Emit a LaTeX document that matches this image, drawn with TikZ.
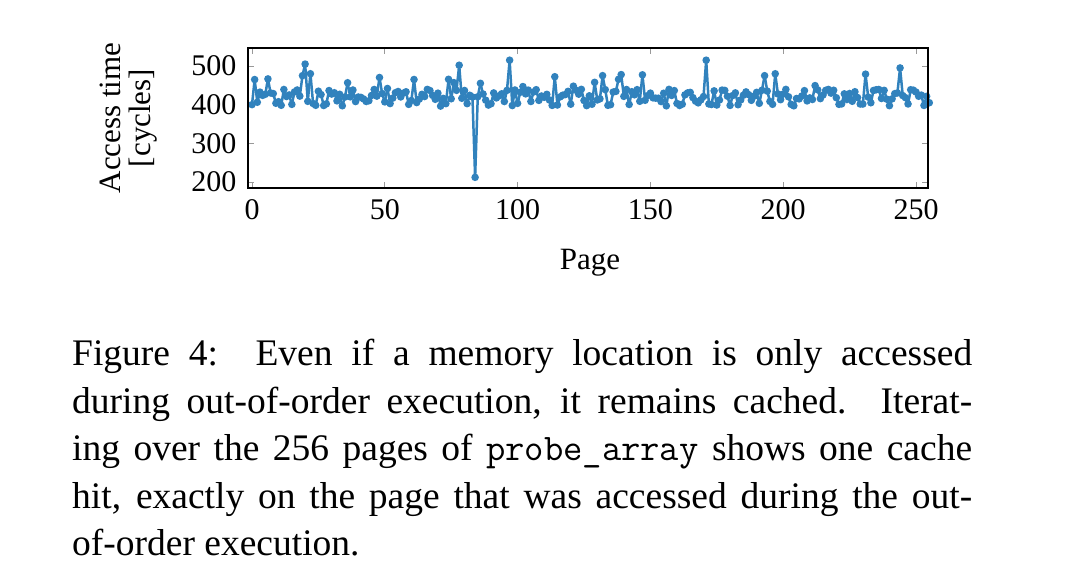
\documentclass[tikz,border=0pt]{standalone}
\usepackage{fontspec}
\setmainfont{Liberation Serif}
\begin{document}
\begin{tikzpicture}[x=1pt,y=-1pt,
  databl/.style={draw=plotblue,line width=2.5pt,line join=round},
  datadot/.style={fill=plotblue},
  tickl/.style={draw=gray!80,line width=0.8pt},
  ticklab/.style={font=\fontsize{30}{30}\selectfont},
  axlab/.style={font=\fontsize{31}{31}\selectfont}]
\definecolor{plotblue}{RGB}{49,130,189}
\useasboundingbox (0,0) rectangle (1090,585);
\pgfmathsetseed{4242}
% ticks
\foreach \t in {0,50,...,250}{
  \pgfmathsetmacro{\xx}{252+2.656*\t}
  \draw[tickl] (\xx,188) -- (\xx,182) (\xx,48) -- (\xx,54);
  \node[ticklab,anchor=north] (xt\t) at (\xx,196) {\t};
}
\foreach \v in {200,300,400,500}{
  \pgfmathsetmacro{\yy}{182-(\v-200)*0.3867}
  \draw[tickl] (248,\yy) -- (254,\yy) (928,\yy) -- (922,\yy);
  \node[ticklab,anchor=east] (yt\v) at (240,\yy) {\v};
}
% data
\foreach \i in {0,...,255}{
  \pgfmathsetmacro{\r}{rand}
  \pgfmathsetmacro{\s}{rnd}
  \pgfmathsetmacro{\v}{418+22*\r+(\s<0.1 ? 40 : 0)}
  \ifnum\i=0 \def\v{400}\fi
  \ifnum\i=84 \def\v{212}\fi
  \ifnum\i=97 \def\v{515}\fi
  \ifnum\i=171 \def\v{515}\fi
  \ifnum\i=78 \def\v{502}\fi
  \ifnum\i=20 \def\v{505}\fi
  \ifnum\i=22 \def\v{480}\fi
  \ifnum\i=244 \def\v{495}\fi
  \ifnum\i=255 \def\v{405}\fi
  \coordinate (p\i) at ({252+2.656*\i},{182-(\v-200)*0.3867});
  \ifnum\i>0
    \pgfmathtruncatemacro{\pr}{\i-1}
    \draw[databl] (p\pr) -- (p\i);
  \fi
}
\foreach \i in {0,...,255}{ \fill[datadot] (p\i) circle (3.8pt); }
\draw[line width=1.2pt] (248,48) rectangle (928,188);
\node[axlab,rotate=90] (al1) at (110,118) {Access time};
\node[axlab,rotate=90] (al2) at (143,118) {[cycles]};
\node[axlab] (pg) at (590,263) {Page};
\node[anchor=north west,text width=900pt,align=justify,inner sep=0pt,
  font=\fontsize{37.5}{47.5}\selectfont] (cap) at (72,339)
 {Figure 4:\ \ Even if a memory location is only accessed\linebreak during out-of-order execution, it remains cached. Iterat-\linebreak ing over the 256 pages of {\ttfamily probe\_array} shows one cache\linebreak hit, exactly on the page that was accessed during the out-\linebreak of-order execution.};
\end{tikzpicture}
\end{document}
